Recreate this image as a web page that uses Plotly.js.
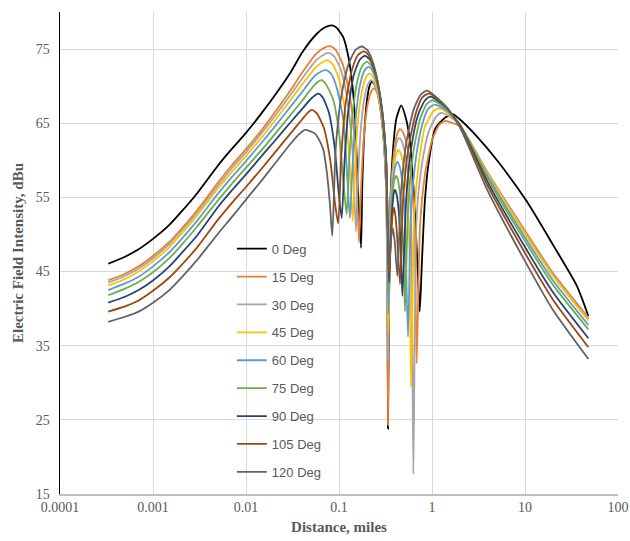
<!DOCTYPE html>
<html>
<head>
<meta charset="utf-8">
<script src="https://cdn.plot.ly/plotly-3.0.1.min.js"></script>
<style>html,body{margin:0;padding:0;background:#fff;}#chart{width:630px;height:541px;}</style>
</head>
<body>
<div id="chart"></div>
<script>
// Series names and colours
const seriesNames = ["0 Deg","15 Deg","30 Deg","45 Deg","60 Deg","75 Deg","90 Deg","105 Deg","120 Deg"];
const seriesColors = ["#000000","#ED7D31","#A5A5A5","#FFC000","#5B9BD5","#70AD47","#264478","#9E480E","#636363"];

// Distance (miles) and field intensity (dBu)
const dist0 = [0.00033,0.0005,0.0007,0.001,0.0015,0.002,0.003,0.005,0.007,0.01,0.015,0.02,0.03,0.04,0.057,0.07,0.084,0.094,0.111,0.125,0.137,0.149,0.16,0.1725,0.178,0.187,0.2,0.214,0.226,0.245,0.27,0.299,0.321,0.331,0.3364,0.3535,0.382,0.4135,0.466,0.5256,0.58,0.6425,0.696,0.738,0.78,0.838,0.923,1.086,1.4,1.69,2.0,3.0,5.0,10.4,20,36,48];
const field0 = [46.05,47.0,48.0,49.4,51.3,53.0,55.6,59.3,61.5,63.7,66.5,68.6,71.8,74.5,77.0,77.9,78.2,77.9,76.6,74.2,71.0,65.5,56,48.2,56.6,63.6,68.1,70.1,70.6,70.1,68.1,63.6,56.6,45,23.8,52.7,61.6,65.6,67.4,65.6,62.5,54.9,46.4,39.6,46.4,54.5,59.8,64.3,65.8,66.2,65.5,63.3,60.0,54.5,48.6,43.1,39.0];

const dist15 = [0.00033,0.0005,0.0007,0.001,0.0015,0.002,0.003,0.005,0.007,0.01,0.015,0.02,0.03,0.04,0.057,0.07,0.08,0.092,0.11,0.132,0.15,0.1641,0.172,0.184,0.201,0.221,0.238,0.255,0.278,0.303,0.323,0.331,0.3364,0.348,0.368,0.396,0.427,0.4528,0.49,0.545,0.605,0.652,0.684,0.745,0.845,1.008,1.2,1.38,1.6,2,4,10,20,48];
const field15 = [43.8,44.7,45.7,47.1,49.0,50.7,53.3,57.0,59.3,61.5,64.2,66.3,69.4,71.8,74.4,75.2,75.4,74.9,72.9,68.4,61.4,48.9,55.7,62.7,67.2,69.2,69.7,69.2,67.2,62.7,55.7,45,24.3,50.2,57.2,61.7,63.7,64.2,63.7,61.7,57.2,50.2,32.6,51.3,58.3,62.8,64.8,65.3,65.1,64.6,58.3,50.5,44.8,38.8];

const dist30 = [0.00033,0.0005,0.0007,0.001,0.0015,0.002,0.003,0.005,0.007,0.01,0.015,0.02,0.03,0.04,0.057,0.07,0.0775,0.089,0.106,0.125,0.141,0.152,0.159,0.1705,0.187,0.2053,0.221,0.24,0.267,0.297,0.32,0.3364,0.348,0.366,0.392,0.42,0.445,0.477,0.52,0.573,0.603,0.63,0.684,0.778,0.925,1.11,1.25,1.5,2,4,10,20,48];
const field30 = [43.5,44.4,45.4,46.8,48.7,50.4,53.0,56.6,58.9,61.1,63.8,65.8,68.8,71.0,73.5,74.3,74.5,74.0,72.0,67.5,60.5,50.4,56.8,63.8,68.3,70.3,70.8,70.3,68.3,63.8,56.8,33.0,49,56.0,60.5,62.5,63.0,62.5,60.5,56.0,49,17.7,52.4,59.4,63.9,65.9,66.4,66.0,64.7,58.2,50.3,44.6,38.6];

const dist45 = [0.00033,0.0005,0.0007,0.001,0.0015,0.002,0.003,0.005,0.007,0.01,0.015,0.02,0.03,0.04,0.057,0.068,0.0747,0.085,0.1,0.117,0.13,0.14,0.147,0.158,0.176,0.195,0.213,0.233,0.262,0.296,0.322,0.34,0.351,0.366,0.387,0.413,0.432,0.462,0.5,0.545,0.573,0.595,0.645,0.728,0.838,1.02,1.17,1.4,2,4,10,20,48];
const field45 = [43.1,44.0,45.0,46.4,48.3,50.0,52.6,56.2,58.4,60.6,63.2,65.2,68.1,70.2,72.6,73.3,73.5,73.0,71.0,66.5,59.5,51.8,57.7,64.7,69.2,71.2,71.7,71.2,69.2,64.7,57.7,36.9,47.4,54.4,58.9,60.9,61.4,60.9,58.9,54.4,47.4,29.4,53,60,64.5,66.5,67.0,66.6,64.8,58.1,50.1,44.4,38.4];

const dist60 = [0.00033,0.0005,0.0007,0.001,0.0015,0.002,0.003,0.005,0.007,0.01,0.015,0.02,0.03,0.04,0.055,0.065,0.072,0.082,0.095,0.112,0.122,0.131,0.139,0.151,0.168,0.188,0.207,0.228,0.259,0.294,0.321,0.34,0.35,0.363,0.382,0.405,0.424,0.446,0.477,0.512,0.526,0.552,0.598,0.675,0.792,0.916,1.08,1.4,2,4,10,20,48];
const field60 = [42.5,43.4,44.3,45.7,47.6,49.3,51.9,55.5,57.7,59.9,62.5,64.4,67.2,69.2,71.4,72.0,72.2,71.7,69.7,65.2,58.2,52.2,58.6,65.6,70.1,72.1,72.6,72.1,70.1,65.6,58.6,39.3,46,52.8,57.3,59.3,59.8,59.3,57.3,52.8,46,36.2,53.5,60.5,65,67.0,67.5,66.8,64.8,57.8,49.6,43.8,37.8];

const dist75 = [0.00033,0.0005,0.0007,0.001,0.0015,0.002,0.003,0.005,0.007,0.01,0.015,0.02,0.03,0.04,0.05,0.058,0.065,0.072,0.086,0.1,0.112,0.121,0.128,0.14,0.158,0.179,0.199,0.222,0.253,0.293,0.323,0.345,0.352,0.363,0.378,0.394,0.41,0.429,0.453,0.48,0.499,0.512,0.556,0.63,0.746,0.88,1.015,1.4,2,4,10,20,48];
const field75 = [41.8,42.7,43.6,44.9,46.8,48.5,51.1,54.6,56.8,59.0,61.5,63.4,66.1,68.0,69.6,70.5,70.8,70.3,68.3,63.8,56.8,52.7,59.3,66.3,70.8,72.8,73.3,72.8,70.8,66.3,59.3,42.3,46,50.9,55.4,57.4,57.9,57.4,55.4,50.9,45,39.6,54.1,61.1,65.6,67.6,68.1,67.0,64.8,57.5,49.1,43.2,37.2];

const dist90 = [0.00033,0.0005,0.0007,0.001,0.0015,0.002,0.003,0.005,0.007,0.01,0.015,0.02,0.03,0.04,0.05,0.0597,0.0667,0.0775,0.0893,0.0995,0.107,0.115,0.127,0.145,0.168,0.19,0.214,0.248,0.287,0.321,0.345,0.36,0.374,0.387,0.4,0.415,0.436,0.457,0.48,0.527,0.597,0.707,0.842,0.968,1.4,2,4,10,20,48];
const field90 = [40.8,41.6,42.5,43.8,45.7,47.4,49.9,53.7,55.9,58.1,60.7,62.5,65.1,66.9,68.3,69.0,68.5,66.5,62.0,55.5,52.2,60.1,67.1,71.6,73.6,74.1,73.6,71.6,67.1,60.1,43.5,49.5,53.5,55.5,56.0,55.5,53.5,49.5,41.7,54.6,61.6,66.1,68.1,68.6,67.2,64.7,57.0,48.3,42.2,36.0];

const dist105 = [0.00033,0.0005,0.0007,0.001,0.0015,0.002,0.003,0.005,0.007,0.01,0.015,0.02,0.03,0.04,0.046,0.0512,0.058,0.069,0.081,0.091,0.098,0.106,0.118,0.138,0.16,0.184,0.207,0.242,0.284,0.32,0.345,0.362,0.376,0.39,0.405,0.425,0.453,0.49,0.563,0.675,0.788,0.935,1.4,2,4,10,20,48];
const field105 = [39.6,40.3,41.1,42.4,44.2,45.8,48.3,52.0,54.2,56.4,59.0,60.9,63.6,65.5,66.4,66.8,66.3,64.3,59.8,54,51.5,60.7,67.7,72.2,74.2,74.7,74.2,72.2,67.7,60.7,44.5,49.5,52.5,53.6,52.5,49,43.3,55,62,66.5,68.5,69.0,67.3,64.6,56.5,47.5,41.2,34.8];

const dist120 = [0.00033,0.0005,0.0007,0.001,0.0015,0.002,0.003,0.005,0.007,0.01,0.015,0.02,0.03,0.037,0.0431,0.0552,0.0673,0.0738,0.08,0.0847,0.092,0.105,0.126,0.151,0.175,0.201,0.236,0.28,0.317,0.345,0.36,0.379,0.398,0.424,0.463,0.53,0.637,0.76,0.89,1.4,2,4,10,20,48];
const field120 = [38.2,38.9,39.6,40.8,42.5,44.1,46.6,50.1,52.3,54.7,57.4,59.4,62.2,63.5,64.1,63.6,61.6,58.5,54.0,49.8,61.4,68.4,72.9,74.9,75.35,74.9,72.9,68.4,61.4,45.5,49,50.9,49,44.4,55.4,62.4,66.9,68.9,69.4,67.3,64.4,55.8,46.4,39.8,33.2];

// Axis ticks
const xTickVals = [0.0001,0.001,0.01,0.1,1,10,100];
const xTickText = ["0.0001","0.001","0.01","0.1","1","10","100"];
const yTickVals = [15,25,35,45,55,65,75];

const allDist = [dist0,dist15,dist30,dist45,dist60,dist75,dist90,dist105,dist120];
const allField = [field0,field15,field30,field45,field60,field75,field90,field105,field120];

const traces = seriesNames.map((name,i) => ({
  type: 'scatter',
  mode: 'lines',
  name: name,
  legendgroup: 'g' + i,
  x: allDist[i],
  y: allField[i],
  line: {color: seriesColors[i], width: 1.8, shape: 'spline', smoothing: 0.6},
  hoverinfo: 'x+y+name'
}));

const tickFont = {family: 'Liberation Serif, Times New Roman, serif', size: 14, color: '#595959'};
const titleFont = {family: 'Liberation Serif, Times New Roman, serif', size: 15, color: '#595959', weight: 'bold'};

const layout = {
  width: 630,
  height: 541,
  margin: {l: 60, r: 12, t: 12, b: 47},
  paper_bgcolor: '#ffffff',
  plot_bgcolor: '#ffffff',
  showlegend: true,
  legend: {
    x: 0.308, y: 0.54, xanchor: 'left', yanchor: 'top',
    bgcolor: 'rgba(0,0,0,0)',
    traceorder: 'grouped',
    tracegroupgap: 8,
    font: {family: 'Liberation Sans, Arial, sans-serif', size: 13, color: '#595959'}
  },
  xaxis: {
    type: 'log',
    range: [-4, 2],
    tickvals: xTickVals,
    ticktext: xTickText,
    tickfont: tickFont,
    showgrid: true,
    gridcolor: '#D9D9D9',
    gridwidth: 1,
    showline: true,
    linecolor: '#BFBFBF',
    linewidth: 1.5,
    ticks: '',
    zeroline: false,
    title: {text: 'Distance, miles', font: titleFont, standoff: 7}
  },
  yaxis: {
    range: [15, 80],
    tickvals: yTickVals,
    tickfont: tickFont,
    showgrid: true,
    gridcolor: '#D9D9D9',
    gridwidth: 1,
    showline: true,
    linecolor: '#000000',
    linewidth: 1.5,
    ticks: '',
    zeroline: false,
    ticklabelstandoff: 6,
    title: {text: 'Electric Field Intensity, dBu', font: titleFont, standoff: 8}
  }
};

Plotly.newPlot('chart', traces, layout, {displayModeBar: false, staticPlot: true});
</script>
</body>
</html>
